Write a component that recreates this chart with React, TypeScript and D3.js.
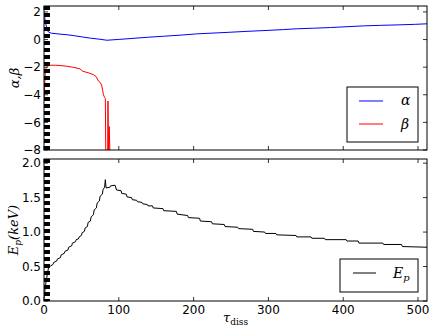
import React from "react";
import * as d3 from "d3";

const alphaTau = [0, 1, 2, 5, 8, 10, 20, 32, 39, 50, 62, 75, 84, 100, 115, 140, 160, 185, 204, 230, 249, 270, 294, 320, 338, 360, 383, 405, 427, 450, 472, 495, 512];
const alphaVal = [1.95, 1.6, 1.2, 0.6, 0.49, 0.46, 0.4, 0.34, 0.29, 0.2, 0.1, 0.02, -0.05, 0.01, 0.07, 0.17, 0.24, 0.33, 0.41, 0.48, 0.53, 0.59, 0.65, 0.72, 0.78, 0.82, 0.87, 0.93, 0.99, 1.03, 1.06, 1.1, 1.14];

const betaTau = [0, 1, 1.8, 3, 4.4, 8, 15, 21.5, 30, 40, 48, 52, 60, 66, 70, 72.6, 75, 77, 79.5, 81, 82, 82.7, 84, 85, 85.5, 86.5, 87.2, 88.5, 90];
const betaVal = [-4.4, -3.2, -2.3, -2.0, -1.93, -1.86, -1.86, -1.88, -1.93, -2.02, -2.12, -2.3, -2.42, -2.54, -2.7, -3.0, -3.1, -3.3, -4.0, -4.2, -4.25, -9, -12, -9, -4.45, -9, -6.3, -9, -12];

const epTau = [0, 3, 6, 9, 12, 13, 17, 18, 22, 23, 27, 28, 32, 33, 37, 38, 42, 43, 46, 47, 50, 51, 54, 55, 58, 59, 62, 63, 66, 67, 70, 71, 74, 75, 78, 79, 81, 82, 83, 88, 89, 95, 97, 103, 104, 110, 111, 117, 118, 124, 125, 131, 132, 138, 139, 145, 146, 159, 160, 177, 178, 192, 193, 208, 209, 224, 225, 241, 242, 259, 260, 279, 280, 295, 296, 310, 311, 337, 338, 357, 358, 375, 376, 404, 405, 420, 421, 453, 454, 478, 479, 512];
const epVal = [0.05, 0.3, 0.48, 0.51, 0.53, 0.56, 0.58, 0.61, 0.63, 0.67, 0.69, 0.72, 0.74, 0.78, 0.8, 0.84, 0.86, 0.89, 0.9, 0.93, 0.95, 0.99, 1.01, 1.06, 1.08, 1.14, 1.16, 1.22, 1.25, 1.32, 1.35, 1.42, 1.45, 1.52, 1.55, 1.62, 1.65, 1.76, 1.64, 1.65, 1.67, 1.68, 1.61, 1.6, 1.56, 1.55, 1.51, 1.5, 1.47, 1.46, 1.44, 1.43, 1.41, 1.4, 1.38, 1.38, 1.35, 1.34, 1.31, 1.3, 1.26, 1.24, 1.21, 1.2, 1.16, 1.15, 1.12, 1.11, 1.08, 1.07, 1.05, 1.04, 1.01, 1.0, 0.98, 0.98, 0.96, 0.95, 0.93, 0.93, 0.91, 0.91, 0.89, 0.89, 0.87, 0.87, 0.84, 0.84, 0.82, 0.82, 0.79, 0.78];

const markerTau = [4];
const xTicks = [0, 100, 200, 300, 400, 500];
const topYTicks = [2, 0, -2, -4, -6, -8];
const botYTicks = [0, 0.5, 1.0, 1.5, 2.0];

const W = 436, H = 327;
const L = 44, R = 427;
const topT = 6, topB = 150;
const botT = 159, botB = 301;

const fmtTop = (v: number) => (v < 0 ? "\u2212" + Math.abs(v) : String(v));
const fmtBot = (v: number) => v.toFixed(1);

export default function App() {
  const x = d3.scaleLinear().domain([0, 512]).range([L, R]);
  const yTop = d3.scaleLinear().domain([-8, 2.43]).range([topB, topT]);
  const yBot = d3.scaleLinear().domain([0, 2.06]).range([botB, botT]);

  const lineA = d3.line<number>().x((_, i) => x(alphaTau[i])).y((d) => yTop(d));
  const lineB = d3.line<number>().x((_, i) => x(betaTau[i])).y((d) => yTop(d));
  const lineE = d3.line<number>().x((_, i) => x(epTau[i])).y((d) => yBot(d));

  const font = "DejaVu Sans, sans-serif";
  const serif = "DejaVu Serif, serif";
  const tl = 4;

  const frame = (t: number, b: number, yTicks: number[], ys: d3.ScaleLinear<number, number>, fmt: (v: number) => string, showX: boolean) => (
    <g>
      {xTicks.map((v) => (
        <g key={"x" + v}>
          <line x1={x(v)} x2={x(v)} y1={b} y2={b - tl} stroke="#000" strokeWidth={0.8} />
          <line x1={x(v)} x2={x(v)} y1={t} y2={t + tl} stroke="#000" strokeWidth={0.8} />
          {showX && (
            <text x={x(v)} y={b + 12.5} textAnchor="middle" fontFamily={font} fontSize={12}>{v}</text>
          )}
        </g>
      ))}
      {yTicks.map((v) => (
        <g key={"y" + v}>
          <line x1={L} x2={L + tl} y1={ys(v)} y2={ys(v)} stroke="#000" strokeWidth={0.8} />
          <line x1={R} x2={R - tl} y1={ys(v)} y2={ys(v)} stroke="#000" strokeWidth={0.8} />
          <text x={L - 3} y={ys(v)} dy="0.36em" textAnchor="end" fontFamily={font} fontSize={12}>{fmt(v)}</text>
        </g>
      ))}
      <rect x={L} y={t} width={R - L} height={b - t} fill="none" stroke="#000" strokeWidth={1} />
    </g>
  );

  return (
    <svg width={W} height={H} style={{ position: "fixed", left: 0, top: 0, background: "#fff" }}>
      <defs>
        <clipPath id="ctop"><rect x={L} y={topT} width={R - L} height={topB - topT} /></clipPath>
        <clipPath id="cbot"><rect x={L} y={botT} width={R - L} height={botB - botT} /></clipPath>
      </defs>
      <rect width={W} height={H} fill="#fff" />
      <g clipPath="url(#ctop)">
        <path d={lineA(alphaVal) || ""} fill="none" stroke="#0000ff" strokeWidth={1} />
        <path d={lineB(betaVal) || ""} fill="none" stroke="#ff0000" strokeWidth={1} />
        {markerTau.map((m) => (
          <line key={m} x1={x(m)} x2={x(m)} y1={topT} y2={topB} stroke="#000" strokeWidth={6} strokeDasharray="4,3" />
        ))}
      </g>
      <g clipPath="url(#cbot)">
        <path d={lineE(epVal) || ""} fill="none" stroke="#000" strokeWidth={1} />
        {markerTau.map((m) => (
          <line key={m} x1={x(m)} x2={x(m)} y1={botT} y2={botB} stroke="#000" strokeWidth={6} strokeDasharray="4,3" />
        ))}
      </g>
      {frame(topT, topB, topYTicks, yTop, fmtTop, false)}
      {frame(botT, botB, botYTicks, yBot, fmtBot, true)}

      {/* legends */}
      <rect x={347} y={87} width={71} height={55} fill="#fff" stroke="#000" strokeWidth={1} />
      <line x1={359} x2={383} y1={101} y2={101} stroke="#0000ff" strokeWidth={1} />
      <text x={401} y={101} dy="0.3em" fontFamily={serif} fontStyle="italic" fontSize={14}>α</text>
      <line x1={359} x2={383} y1={124} y2={124} stroke="#ff0000" strokeWidth={1} />
      <text x={401} y={124} dy="0.35em" fontFamily={serif} fontStyle="italic" fontSize={14}>β</text>

      <rect x={340} y={259} width={78} height={33} fill="#fff" stroke="#000" strokeWidth={1} />
      <line x1={353} x2={376} y1={273} y2={273} stroke="#000" strokeWidth={1} />
      <text x={393} y={278} fontFamily={serif} fontStyle="italic" fontSize={14}>
        E<tspan fontSize={10} dy={3}>p</tspan>
      </text>

      {/* axis labels */}
      <text transform={`translate(19,${(topT + topB) / 2}) rotate(-90)`} textAnchor="middle" fontFamily={serif} fontStyle="italic" fontSize={13}>α,β</text>
      <text transform={`translate(18,${(botT + botB) / 2}) rotate(-90)`} textAnchor="middle" fontFamily={serif} fontStyle="italic" fontSize={13}>
        E<tspan fontSize={9} dy={3}>p</tspan><tspan dy={-3}>(keV)</tspan>
      </text>
      <text x={(L + R) / 2} y={322} textAnchor="middle" fontFamily={serif} fontSize={13}>
        <tspan fontStyle="italic">τ</tspan><tspan fontSize={9} dy={3}>diss</tspan>
      </text>
    </svg>
  );
}
